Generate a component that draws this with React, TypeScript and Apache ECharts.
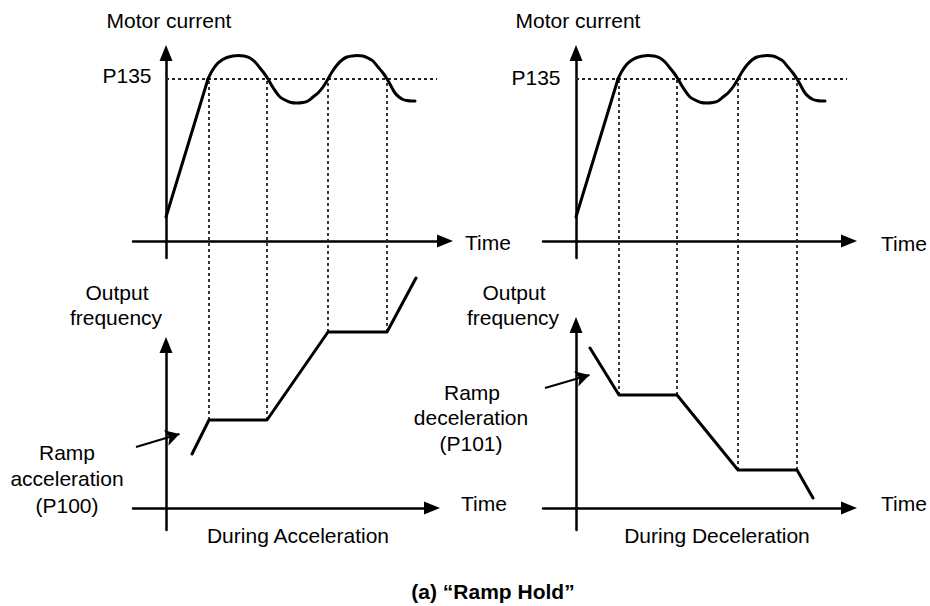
import React, { useEffect, useRef } from "react";
import * as echarts from "echarts";

const FONT = "'Liberation Sans', Arial, Helvetica, sans-serif";

// ---- data (time units on x, signal units on y) ----
// Motor current trace (identical on both sides)
const currentRamp: number[][] = [
  [0, 2.4],
  [4.2, 16.2],
];
const currentWave: number[][] = [
  [4.2, 16.2], [4.6, 17.0], [5.1, 17.7], [5.6, 18.1], [6.1, 18.35], [6.7, 18.5],
  [7.2, 18.55], [7.8, 18.5], [8.4, 18.3], [8.9, 17.9], [9.4, 17.3], [9.8, 16.8],
  [10.2, 16.2], [10.6, 15.5], [11.0, 14.9], [11.4, 14.4], [11.9, 14.1], [12.5, 13.85],
  [13.1, 13.8], [13.7, 13.85], [14.2, 14.0], [14.7, 14.4], [15.2, 14.8], [15.7, 15.4],
  [16.2, 16.2], [16.6, 16.9], [17.1, 17.6], [17.6, 18.1], [18.1, 18.4], [18.6, 18.5],
  [19.1, 18.55], [19.7, 18.5], [20.2, 18.3], [20.7, 18.0], [21.2, 17.4], [21.7, 16.8],
  [22.1, 16.2], [22.5, 15.5], [22.9, 14.8], [23.3, 14.4], [23.7, 14.15], [24.1, 14.05],
  [24.5, 14.0], [24.9, 14.0],
];
const p135Level = 16.2;
const p135End = 27.1;

// Output frequency during acceleration / deceleration
const freqAcc: number[][] = [
  [2.6, 5.4], [4.3, 8.8], [10.1, 8.8], [16.2, 17.6], [22.1, 17.6], [25.0, 23.0],
];
const freqDec: number[][] = [
  [1.4, 16.0], [4.3, 11.3], [10.1, 11.3], [16.2, 3.8], [22.1, 3.8], [23.7, 1.0],
];

// annotation arrows ("Ramp acceleration" / "Ramp deceleration")
const arrowAcc: number[][] = [[-3.0, 6.1], [1.35, 7.4]];
const arrowDec: number[][] = [[-3.1, 12.0], [1.35, 13.3]];

// distance between the upper and lower time axes, in y units
const axisGap = 26.7;

const BLACK = "#000";
const DOT = "#222";

function axisPair(gridIndex: number, xMin: number, xMax: number, yMin: number, yMax: number) {
  const line = {
    show: true,
    onZero: true,
    symbol: ["none", "triangle"],
    symbolSize: [13, 16],
    lineStyle: { color: BLACK, width: 2.5 },
  };
  const common = {
    type: "value",
    gridIndex,
    axisLine: line,
    axisTick: { show: false },
    axisLabel: { show: false },
    splitLine: { show: false },
  };
  return {
    x: { ...common, min: xMin, max: xMax },
    y: { ...common, min: yMin, max: yMax },
  };
}

function lineSeries(idx: number, data: number[][], opts: any = {}) {
  return {
    type: "line",
    xAxisIndex: idx,
    yAxisIndex: idx,
    data,
    symbol: "none",
    showSymbol: false,
    clip: false,
    silent: true,
    smooth: opts.smooth || false,
    lineStyle: {
      color: opts.color || BLACK,
      width: opts.width || 3,
      type: opts.type || "solid",
      cap: opts.cap || "round",
      join: "round",
    },
    markLine: opts.markLine,
    z: opts.z || 2,
  };
}

function text(t: string, x: number, y: number, opts: any = {}) {
  return {
    type: "text",
    x,
    y,
    silent: true,
    style: {
      text: t,
      fill: "#000",
      font: `${opts.bold ? "bold " : ""}${opts.size || 21}px ${FONT}`,
      textAlign: opts.align || "center",
      align: opts.align || "center",
      textVerticalAlign: "middle",
      verticalAlign: "middle",
    },
  };
}

export default function App() {
  const ref = useRef<HTMLDivElement>(null);

  useEffect(() => {
    if (!ref.current) return;
    const chart = echarts.init(ref.current, null, { renderer: "svg" });

    const tl = axisPair(0, -3.3, 27.9, -1.7, 18.8);
    const bl = axisPair(1, -3.3, 26.6, -2.2, 16.3);
    const tr = axisPair(2, -3.3, 27.3, -1.7, 18.8);
    const br = axisPair(3, -3.3, 27.3, -2.2, 18.3);

    const series: any[] = [];

    // top panels: motor current + P135 level
    [0, 2].forEach((g) => {
      series.push(lineSeries(g, currentRamp, { width: 3 }));
      series.push(lineSeries(g, currentWave, { width: 3, smooth: 0.3 }));
      series.push(
        lineSeries(g, [[0, p135Level], [p135End, p135Level]], {
          color: DOT, width: 1.8, type: [3, 3], z: 1, cap: "butt",
        })
      );
    });

    // bottom panels: output frequency, hold-start/stop dotted verticals, annotation arrow
    const bottoms: [number, number[][], number[][]][] = [
      [1, freqAcc, arrowAcc],
      [3, freqDec, arrowDec],
    ];
    bottoms.forEach(([g, freq, arrow]) => {
      series.push(
        lineSeries(g, freq, {
          width: 3,
          markLine: {
            silent: true,
            symbol: ["none", "arrow"],
            symbolSize: [12, 14],
            label: { show: false },
            lineStyle: { color: BLACK, width: 2, type: "solid" },
            data: [[{ coord: arrow[0] }, { coord: arrow[1] }]],
          },
        })
      );
      freq.slice(1, 5).forEach((p) => {
        series.push(
          lineSeries(g, [[p[0], p[1]], [p[0], p135Level + axisGap]], {
            color: DOT,
            width: 1.8,
            type: [3, 3],
            z: 1,
            cap: "butt",
          })
        );
      });
    });

    const graphic = [
      text("Motor current", 169, 20),
      text("Motor current", 578, 20),
      text("P135", 127, 75),
      text("P135", 536, 77),
      text("Time", 465, 242, { align: "left" }),
      text("Time", 461, 503, { align: "left" }),
      text("Time", 881, 243, { align: "left" }),
      text("Time", 881, 503, { align: "left" }),
      text("Output", 117, 292),
      text("frequency", 116, 317),
      text("Output", 514, 292),
      text("frequency", 513, 317),
      text("Ramp", 67, 452),
      text("acceleration", 67, 478),
      text("(P100)", 67, 505),
      text("Ramp", 472, 392),
      text("deceleration", 471, 417),
      text("(P101)", 471, 443),
      text("During Acceleration", 298, 535),
      text("During Deceleration", 717, 535),
      text("(a) \u201CRamp Hold\u201D", 493, 591, { bold: true, size: 21 }),
    ];

    chart.setOption({
      animation: false,
      backgroundColor: "#fff",
      textStyle: { fontFamily: FONT },
      grid: [
        { left: 133, top: 53, width: 312, height: 205, outerBoundsMode: "none" },
        { left: 133, top: 345, width: 299, height: 185, outerBoundsMode: "none" },
        { left: 543, top: 53, width: 306, height: 205, outerBoundsMode: "none" },
        { left: 543, top: 325, width: 306, height: 205, outerBoundsMode: "none" },
      ],
      xAxis: [tl.x, bl.x, tr.x, br.x],
      yAxis: [tl.y, bl.y, tr.y, br.y],
      series,
      graphic,
    });

    return () => chart.dispose();
  }, []);

  return (
    <div
      ref={ref}
      style={{ position: "fixed", left: 0, top: 0, width: 930, height: 606, background: "#fff" }}
    />
  );
}
